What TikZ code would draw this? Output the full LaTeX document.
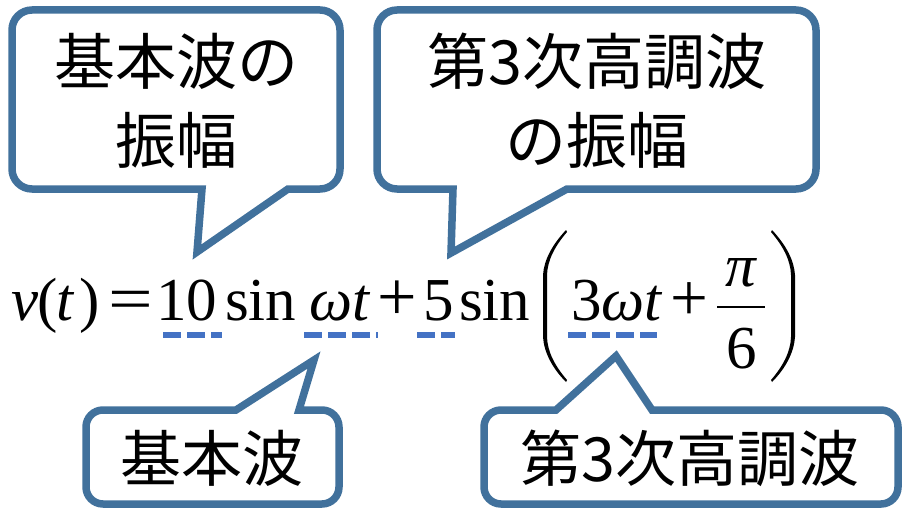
\documentclass[tikz,border=0pt]{standalone}
\usepackage{fontspec}
\usepackage{graphicx}
\newfontfamily\jpfont{Noto Sans CJK JP}
\newfontfamily\eqfont{Liberation Serif}
\definecolor{cbord}{RGB}{65,113,156}
\definecolor{dashb}{RGB}{68,114,196}
\tikzset{
  callout/.style={draw=cbord, line width=7.5pt, fill=white, line join=miter},
  jptext/.style={inner sep=0pt, anchor=base, font=\jpfont\fontsize{61}{61}\selectfont},
  eqw/.style={inner sep=0pt, anchor=base west, font=\eqfont\fontsize{61}{61}\selectfont},
  eqc/.style={inner sep=0pt, anchor=base, font=\eqfont\fontsize{61}{61}\selectfont},
  uline/.style={draw=dashb, line width=5.5pt, dash pattern=on 18pt off 6pt},
}
% L T R B r b1 b2 tipx tipy (screen pixels, y downward)
\newcommand\calloutDown[9]{%
  \path[callout] (#7,-#4) -- ({#3-#5},-#4) arc[start angle=-90,end angle=0,radius=#5pt]
    -- (#3,{-#2-#5}) arc[start angle=0,end angle=90,radius=#5pt]
    -- ({#1+#5},-#2) arc[start angle=90,end angle=180,radius=#5pt]
    -- (#1,{-#4+#5}) arc[start angle=180,end angle=270,radius=#5pt]
    -- (#6,-#4) -- (#8,-#9) -- cycle;}
\newcommand\calloutUp[9]{%
  \path[callout] (#6,-#2) -- ({#1+#5},-#2) arc[start angle=90,end angle=180,radius=#5pt]
    -- (#1,{-#4+#5}) arc[start angle=180,end angle=270,radius=#5pt]
    -- ({#3-#5},-#4) arc[start angle=270,end angle=360,radius=#5pt]
    -- (#3,{-#2-#5}) arc[start angle=0,end angle=90,radius=#5pt]
    -- (#7,-#2) -- (#8,-#9) -- cycle;}
\newcommand\bigparen{%
  \fill (23,-230) .. controls (9,-245) and (1,-260) .. (0,-275) -- (0,-337)
    .. controls (1,-352) and (9,-368) .. (23,-382) -- (24,-380)
    .. controls (12,-366) and (4.5,-352) .. (4,-337) -- (4,-275)
    .. controls (4.5,-260) and (12,-246) .. (24,-232) -- cycle;}
\begin{document}
\begin{tikzpicture}[x=1pt,y=1pt]
\useasboundingbox (0,0) rectangle (907,-508);
% callouts
\calloutDown{12}{10}{340}{189}{20}{202}{288}{197}{252}
\calloutDown{377}{10}{816}{189}{20}{453}{567}{451}{253}
\calloutUp{86}{410}{339}{504}{17}{236}{299}{314}{360}
\calloutUp{484}{410}{898}{504}{17}{556}{652}{616}{356}
% callout texts
\node[jptext] (c1a) at (176,-85) {基本波の};
\node[jptext] (c1b) at (176,-163) {振幅};
\node[jptext] (c2a) at (597,-85) {第3次高調波};
\node[jptext] (c2b) at (597,-163) {の振幅};
\node[jptext] (c3) at (212,-481) {基本波};
\node[jptext] (c4) at (690,-481) {第3次高調波};
% equation
\node[eqw] (v) at (11,-320) {\itshape v};
\node[eqw] (lp) at (37,-320) {(};
\node[eqw] (t) at (56,-320) {\itshape t};
\node[eqw] (rp) at (79,-320) {)};
\node[eqc] (eqs) at (131,-320) {\scalebox{1.3}[1.05]{=}};
\node[eqw] (ten) at (156,-320) {10};
\node[eqw] (sin1) at (225,-320) {sin};
\node[eqw] (wt) at (309,-320) {\itshape ωt};
\node[eqc] (plus1) at (397.5,-320) {\scalebox{1.15}{+}};
\node[eqw] (five) at (423,-320) {5};
\node[eqw] (sin2) at (459,-320) {sin};
\node[eqw] (twt) at (571,-320) {3\itshape ωt};
\node[eqc] (plus2) at (689,-320) {\scalebox{1.1}{+}};
\node[eqc] (pi) at (741,-286) {\itshape π};
\node[eqc] (six) at (741.5,-368) {6};
\draw[line width=2.5pt] (717,-307) -- (765,-307);
\begin{scope}[shift={(543,0)}]\bigparen\end{scope}
\begin{scope}[shift={(795,0)},xscale=-1]\bigparen\end{scope}
% dashed underlines
\draw[uline] (163,-335) -- (222,-335);
\draw[uline] (304,-335) -- (378,-335);
\draw[uline] (417,-335) -- (455,-335);
\draw[uline] (568,-335) -- (657,-335);
\end{tikzpicture}
\end{document}
